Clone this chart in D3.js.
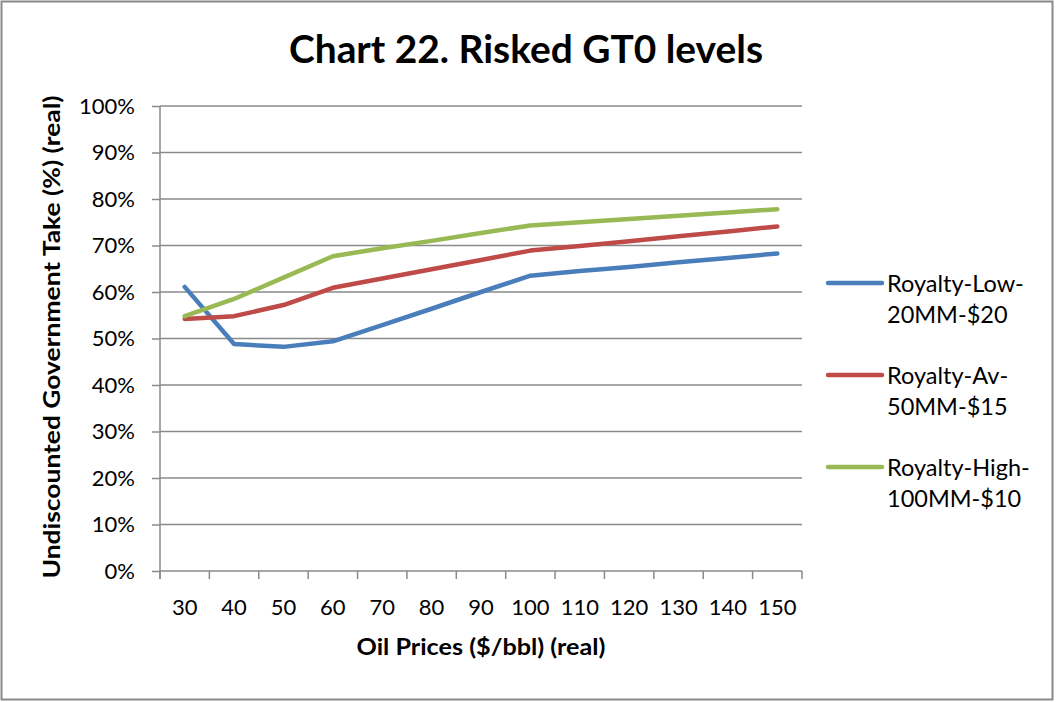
<!DOCTYPE html>
<html>
<head>
<meta charset="utf-8">
<script src="https://cdn.jsdelivr.net/npm/d3@7"></script>
<style>
  body { margin: 0; background: #fff; }
  text { font-family: Lato, "Open Sans", sans-serif; fill: #000; }
</style>
</head>
<body>
<div id="chart"></div>
<script>
var width = 1056, height = 702;

// data
var prices = ["30", "40", "50", "60", "70", "80", "90", "100", "110", "120", "130", "140", "150"];
var royaltyLow = [61.1, 48.8, 48.2, 49.4, 52.9, 56.4, 60.0, 63.5, 64.5, 65.4, 66.4, 67.3, 68.3];
var royaltyAv = [54.2, 54.8, 57.2, 60.9, 62.9, 64.9, 66.9, 68.9, 69.9, 70.9, 72.0, 73.0, 74.1];
var royaltyHigh = [54.8, 58.5, 63.1, 67.7, 69.4, 71.0, 72.7, 74.3, 75.0, 75.7, 76.4, 77.1, 77.8];
var seriesNames = [["Royalty-Low-", "20MM-$20"], ["Royalty-Av-", "50MM-$15"], ["Royalty-High-", "100MM-$10"]];
var seriesColors = ["#4a7ebb", "#be4b48", "#98b954"];
var yTicks = [0, 10, 20, 30, 40, 50, 60, 70, 80, 90, 100];

var series = [royaltyLow, royaltyAv, royaltyHigh];

var svg = d3.select("#chart").append("svg").attr("width", width).attr("height", height);

// outer frame
svg.append("rect").attr("x", 1.5).attr("y", 1.5).attr("width", 1051).attr("height", 698)
    .attr("fill", "#fff").attr("stroke", "#898989").attr("stroke-width", 2);

var plotLeft = 160, plotRight = 802, plotTop = 106, plotBottom = 571;

var x = d3.scaleBand().domain(prices).range([plotLeft, plotRight]).padding(0);
var y = d3.scaleLinear().domain([0, 100]).range([plotBottom, plotTop]);

// gridlines
svg.append("g").selectAll("line").data(yTicks.slice(1)).enter().append("line")
    .attr("x1", plotLeft).attr("x2", plotRight)
    .attr("y1", function(d){ return y(d) }).attr("y2", function(d){ return y(d) })
    .attr("stroke", "#8a8a8a").attr("stroke-width", 1.5);

// y axis
var yAxis = d3.axisLeft(y).tickValues(yTicks).tickSize(8).tickPadding(17)
    .tickFormat(function(d){ return d + "%" });
var gy = svg.append("g").attr("transform", "translate(" + plotLeft + ",0)").call(yAxis);
gy.select(".domain").attr("stroke", "#8a8a8a").attr("stroke-width", 1.5)
    .attr("d", "M0," + plotTop + "V" + (plotBottom + 8));
gy.selectAll(".tick line").attr("stroke", "#8a8a8a").attr("stroke-width", 1.5);
gy.selectAll(".tick text").attr("font-size", 22).attr("font-family", "Lato").attr("fill", "#000");

// x axis: ticks on category boundaries, labels in the middle
var gx = svg.append("g").attr("transform", "translate(0," + plotBottom + ")");
gx.append("line").attr("x1", plotLeft).attr("x2", plotRight).attr("y1", 0).attr("y2", 0)
    .attr("stroke", "#8a8a8a").attr("stroke-width", 1.5);
var bounds = prices.map(function(p){ return x(p) }).concat([x(prices[prices.length - 1]) + x.bandwidth()]);
gx.selectAll("line.tk").data(bounds).enter().append("line").attr("class", "tk")
    .attr("x1", function(d){ return d }).attr("x2", function(d){ return d })
    .attr("y1", 0).attr("y2", 8).attr("stroke", "#8a8a8a").attr("stroke-width", 1.5);
gx.selectAll("text").data(prices).enter().append("text")
    .attr("x", function(d){ return x(d) + x.bandwidth() / 2 })
    .attr("y", 44).attr("text-anchor", "middle").attr("font-size", 22)
    .text(function(d){ return d });

// lines
var line = d3.line()
    .x(function(d, i){ return x(prices[i]) + x.bandwidth() / 2 })
    .y(function(d){ return y(d) });
svg.append("g").selectAll("path").data(series).enter().append("path")
    .attr("d", line).attr("fill", "none")
    .attr("stroke", function(d, i){ return seriesColors[i] })
    .attr("stroke-width", 4.5).attr("stroke-linejoin", "round").attr("stroke-linecap", "round");

// title
svg.append("text").attr("x", 526).attr("y", 63).attr("text-anchor", "middle")
    .attr("font-size", 39).attr("font-weight", "bold")
    .attr("textLength", 474).attr("lengthAdjust", "spacingAndGlyphs")
    .text("Chart 22. Risked GT0 levels");

// axis titles
svg.append("text").attr("x", 481).attr("y", 655).attr("text-anchor", "middle")
    .attr("font-size", 22).attr("font-weight", "bold")
    .attr("textLength", 249).attr("lengthAdjust", "spacingAndGlyphs")
    .text("Oil Prices ($/bbl) (real)");
svg.append("text").attr("transform", "translate(60,337) rotate(-90)").attr("text-anchor", "middle")
    .attr("font-size", 22).attr("font-weight", "bold")
    .attr("textLength", 483).attr("lengthAdjust", "spacingAndGlyphs")
    .text("Undiscounted Government Take (%) (real)");

// legend
var legend = svg.append("g").selectAll("g").data(seriesNames).enter().append("g")
    .attr("transform", function(d, i){ return "translate(828," + (283 + i * 92) + ")" });
legend.append("line").attr("x1", 0).attr("x2", 54).attr("y1", 0).attr("y2", 0)
    .attr("stroke", function(d, i){ return seriesColors[i] })
    .attr("stroke-width", 4.5).attr("stroke-linecap", "round");
legend.append("text").attr("x", 59).attr("y", 9).attr("font-size", 23.5)
    .text(function(d){ return d[0] });
legend.append("text").attr("x", 59).attr("y", 40).attr("font-size", 23.5)
    .text(function(d){ return d[1] });
</script>
</body>
</html>
